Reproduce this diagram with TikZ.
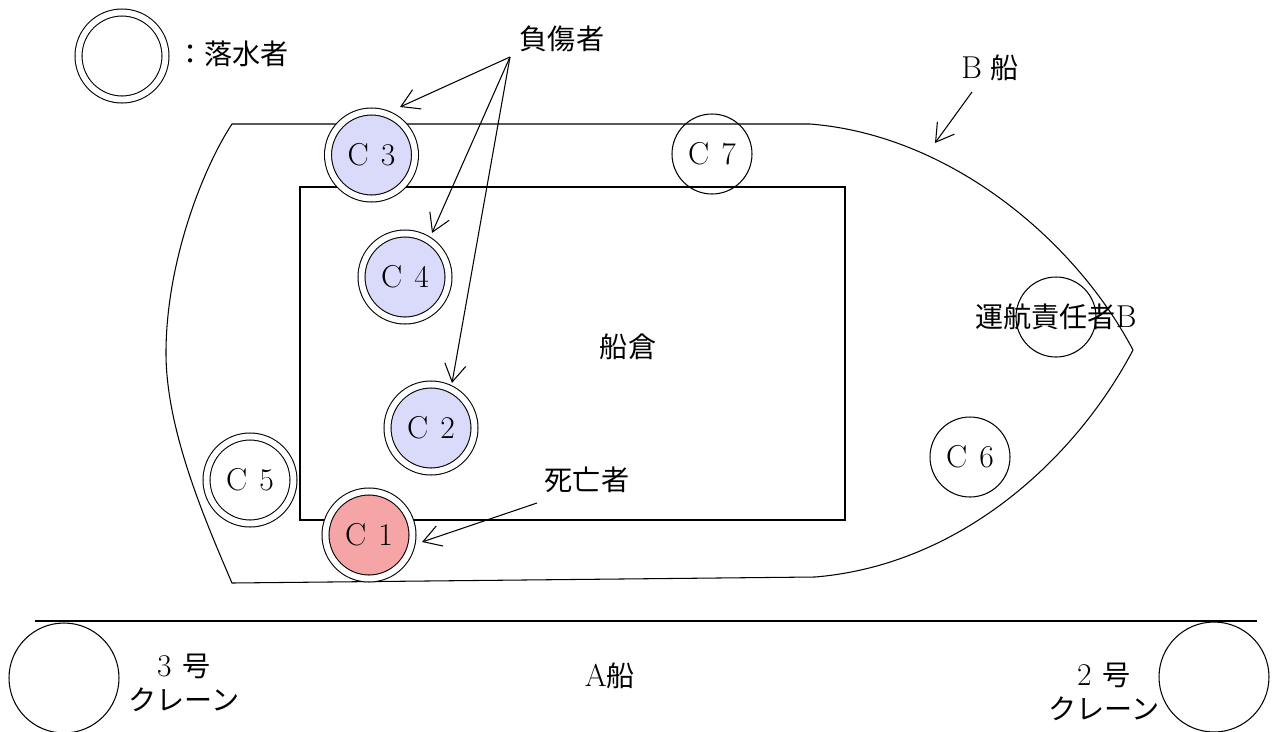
\documentclass[tikz,border=0pt]{standalone}
\usepackage{fontspec}
\newfontfamily\jp{Noto Sans CJK JP}
\usetikzlibrary{arrows.meta,calc}
\definecolor{injc}{RGB}{218,218,250}
\definecolor{deadc}{RGB}{245,165,165}
\newcommand{\lat}[1]{{\fontsize{18}{22}\selectfont #1}}
\newcommand{\cid}[1]{\lat{C\hspace{0.38em}#1}}
\tikzset{
  lw/.style={line width=0.6pt},
  dbl/.style={circle, draw, lw, double, double distance=3.37pt, minimum size=1.74cm, inner sep=0pt},
  sgl/.style={circle, draw, lw, minimum size=1.6cm, inner sep=0pt},
  crane/.style={circle, draw, lw, minimum size=2.2cm, inner sep=0pt},
  txt/.style={inner sep=0pt, align=center},
  arr/.style={lw, -{Straight Barb[length=10pt,width=12pt]}},
}
\begin{document}
\begin{tikzpicture}[x=0.02cm, y=-0.02cm, font=\fontsize{16}{20}\selectfont]
\useasboundingbox (0,0) rectangle (1279,731);

% legend
\node[dbl] (leg) at (122,56) {};
\node[txt, anchor=west] (legt) at (176,54) {\jp ：落水者};

% B ship outline
\draw[lw] (232,124) -- (810,124)
  .. controls (950,135) and (1075,240) .. (1133,350)
  .. controls (1075,460) and (960,565) .. (815,577)
  -- (232,583)
  .. controls (205,520) and (166,430) .. (166,353)
  .. controls (166,262) and (203,168) .. (232,124) -- cycle;

% hold
\draw[lw] (300,187) rectangle (845,520);
\node[txt] (hold) at (628,347) {\jp 船倉};

% persons
\node[dbl, fill=injc] (c3) at (371.5,155) {\cid{3}};
\node[dbl, fill=injc] (c4) at (405,277) {\cid{4}};
\node[dbl, fill=injc] (c2) at (431,428) {\cid{2}};
\node[dbl, fill=deadc] (c1) at (369,535) {\cid{1}};
\node[dbl] (c5) at (250,480) {\cid{5}};
\node[sgl] (c7) at (712,154) {\cid{7}};
\node[sgl] (c6) at (970,457) {\cid{6}};
\node[sgl, label={[name=capt, inner sep=0pt]center:{\jp 運航責任者}\lat{B}}] (cap) at (1056,317) {};

% labels and arrows
\node[txt] (inj) at (562,39) {\jp 負傷者};
\coordinate (injs) at (510,57);
\draw[arr] (injs) -- ($(c3)+(28.5,-48)$);
\draw[arr] (injs) -- ($(c4)+(27,-44)$);
\draw[arr] (injs) -- ($(c2)+(21,-45)$);

\node[txt] (dead) at (587,480) {\jp 死亡者};
\coordinate (deads) at (537,503);
\draw[arr] (deads) -- ($(c1)+(53,7)$);

\node[txt] (bship) at (990,68) {\lat{B}\hspace{0.3em}{\jp 船}};
\coordinate (bs) at (972,92);
\coordinate (bt) at (935,143);
\draw[arr] (bs) -- (bt);

% A ship
\coordinate (al) at (35,621);
\coordinate (ar) at (1257,621);
\draw[lw] (al) -- (ar);
\node[txt] (aship) at (610,676) {\lat{A}{\jp 船}};
\node[crane] (cr3) at (64,678) {};
\node[crane] (cr2) at (1214,677) {};
\node[txt] (cr3t) at (184,683) {\lat{3}\hspace{0.4em}{\jp 号}\\[-1pt]{\jp クレーン}};
\node[txt] (cr2t) at (1104,692) {\lat{2}\hspace{0.4em}{\jp 号}\\[-1pt]{\jp クレーン}};
\end{tikzpicture}
\end{document}
